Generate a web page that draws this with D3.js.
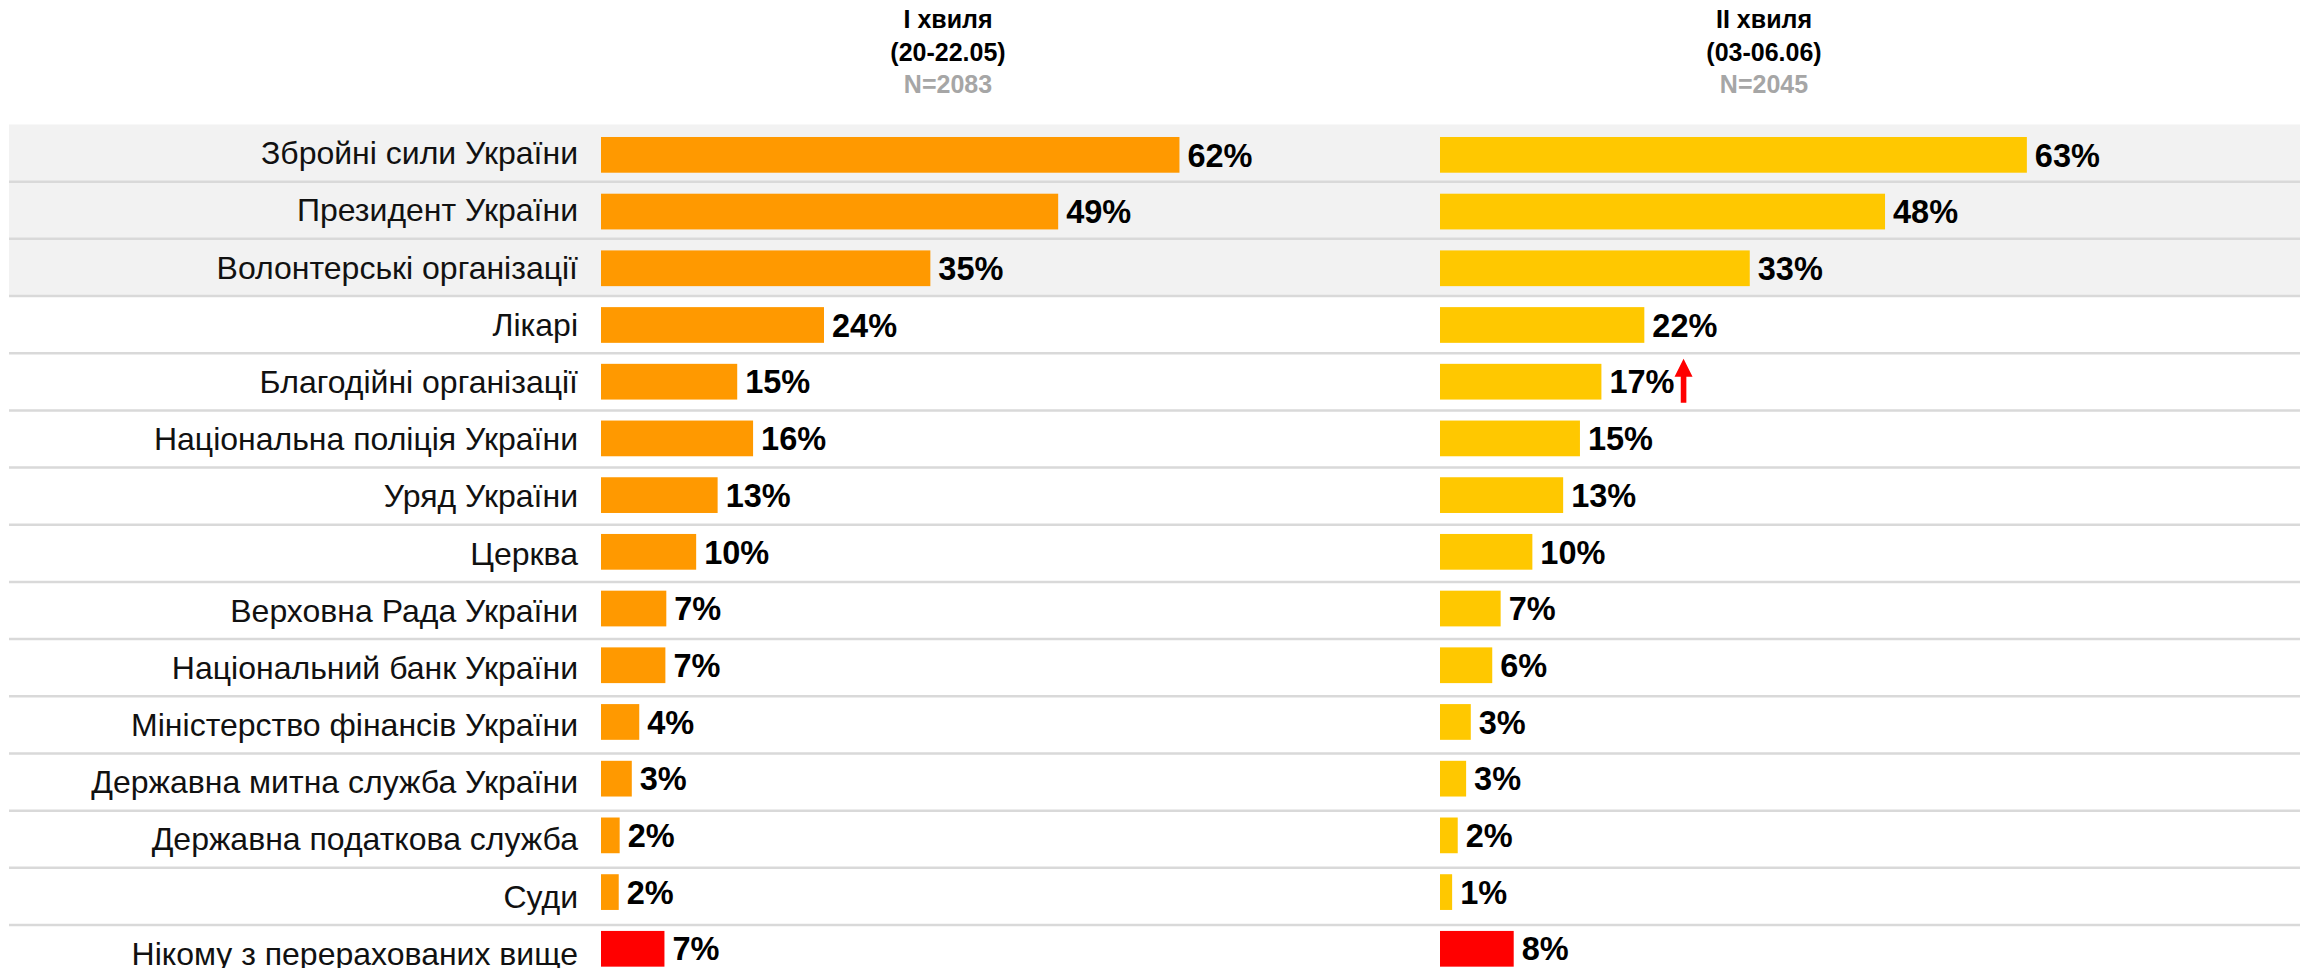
<!DOCTYPE html>
<html>
<head>
<meta charset="utf-8">
<script src="https://cdn.jsdelivr.net/npm/d3@7"></script>
<style>
  body { margin: 0; background: #fff; }
  text { font-family: "Liberation Sans", Arial, sans-serif; }
</style>
</head>
<body>
<svg width="2300" height="968"></svg>
<script>
// Categories (top to bottom)
const categories = [
  'Збройні сили України',
  'Президент України',
  'Волонтерські організації',
  'Лікарі',
  'Благодійні організації',
  'Національна поліція України',
  'Уряд України',
  'Церква',
  'Верховна Рада України',
  'Національний банк України',
  'Міністерство фінансів України',
  'Державна митна служба України',
  'Державна податкова служба',
  'Суди',
  'Нікому з перерахованих вище'
];

// Shares, % (labels are rounded)
const wave1 = [62, 49, 35.3, 23.9, 14.6, 16.3, 12.5, 10.2, 7.0, 6.9, 4.1, 3.3, 2.0, 1.9, 6.8];
const wave2 = [62.9, 47.7, 33.2, 21.9, 17.3, 15.0, 13.2, 9.9, 6.5, 5.6, 3.3, 2.8, 1.9, 1.3, 7.9];

const waveTitles = ['І хвиля', 'ІІ хвиля'];
const waveDates  = ['(20-22.05)', '(03-06.06)'];
const waveN      = ['N=2083', 'N=2045'];

// rows with grey background, and a significant rise in wave 2
const shadedRows = 3;
const risen = ['Благодійні організації'];

const svg = d3.select('svg');
const width  = +svg.attr('width');

const waveColors = ['#ff9900', '#ffc800'];
const noneColor = '#ff0000';

// table rows and bars sit on slightly different pitches
const rowY = d3.scaleBand().domain(categories).range([124.5, 124.5 + 57.18 * categories.length]);
const barY = d3.scaleBand().domain(categories)
  .range([126.5, 126.5 + 56.71 * categories.length])
  .paddingInner(0.37).paddingOuter(0.185);

const x = d3.scaleLinear().domain([0, 100]).range([0, 933]);
const columns = [
  { values: wave1, x0: 601, head: 948, color: waveColors[0] },
  { values: wave2, x0: 1440, head: 1764, color: waveColors[1] }
];

// grey band behind the top rows
svg.append('rect')
  .attr('x', 9).attr('y', rowY(categories[0]))
  .attr('width', width - 9)
  .attr('height', rowY.step() * shadedRows)
  .attr('fill', '#f2f2f2');

// row separators
svg.append('g').selectAll('line')
  .data(categories)
  .join('line')
    .attr('x1', 9).attr('x2', width)
    .attr('y1', d => rowY(d) + rowY.step())
    .attr('y2', d => rowY(d) + rowY.step())
    .attr('stroke', '#d9d9d9')
    .attr('stroke-width', 2.5);

// category labels
svg.append('g').selectAll('text')
  .data(categories)
  .join('text')
    .attr('x', 578)
    .attr('y', d => rowY(d) + rowY.step() / 2)
    .attr('dy', '0.35em')
    .attr('text-anchor', 'end')
    .attr('font-size', 32)
    .attr('fill', '#111')
    .text(d => d);

// column headers
columns.forEach((col, i) => {
  const h = svg.append('text')
    .attr('text-anchor', 'middle')
    .attr('font-size', 25)
    .attr('font-weight', 'bold');
  h.append('tspan').attr('x', col.head).attr('y', 28).attr('fill', '#000').text(waveTitles[i]);
  h.append('tspan').attr('x', col.head).attr('y', 61).attr('fill', '#000').text(waveDates[i]);
  h.append('tspan').attr('x', col.head).attr('y', 93).attr('fill', '#a6a6a6').text(waveN[i]);
});

// bars and value labels
columns.forEach(col => {
  const rows = categories.map((c, i) => ({ cat: c, v: col.values[i], last: i === categories.length - 1 }));
  const g = svg.append('g').attr('transform', `translate(${col.x0},0)`);

  g.selectAll('rect')
    .data(rows)
    .join('rect')
      .attr('x', 0)
      .attr('y', d => barY(d.cat))
      .attr('width', d => x(d.v))
      .attr('height', barY.bandwidth())
      .attr('fill', d => d.last ? noneColor : col.color);

  g.selectAll('text')
    .data(rows)
    .join('text')
      .attr('x', d => x(d.v) + 8)
      .attr('y', d => barY(d.cat) + barY.bandwidth() / 2)
      .attr('dy', '0.36em')
      .attr('font-size', 32.5)
      .attr('font-weight', 'bold')
      .attr('fill', '#000')
      .text(d => Math.round(d.v) + '%')
      .each(function(d) {
        if (col === columns[1] && risen.includes(d.cat)) {
          const b = this.getBBox();
          const ax = b.x + b.width + 9;
          const top = barY(d.cat) - 5;
          g.append('path')
            .attr('d', `M${ax},${top} L${ax + 9},${top + 18} L${ax + 2.8},${top + 18} L${ax + 2.8},${top + 44} L${ax - 2.8},${top + 44} L${ax - 2.8},${top + 18} L${ax - 9},${top + 18} Z`)
            .attr('fill', '#ff0000');
        }
      });
});
</script>
</body>
</html>
